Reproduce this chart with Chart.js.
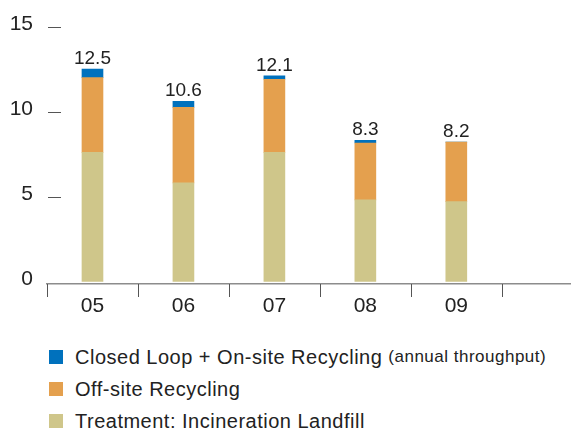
<!DOCTYPE html>
<html>
<head>
<meta charset="utf-8">
<script src="https://cdn.jsdelivr.net/npm/chart.js@4.4.0/dist/chart.umd.min.js"></script>
<style>
  body { margin: 0; background: #fff; font-family: "Liberation Sans", Arial, sans-serif; }
  #wrap { position: relative; width: 579px; height: 432px; }
  #box { position: absolute; left: 0; top: 0; width: 579px; height: 330px; }
  #legend { position: absolute; left: 49px; top: 341px; }
  .row { height: 32px; display: flex; align-items: center; font-size: 20px; letter-spacing: 0.5px; color: #222; white-space: nowrap; }
  .sw { width: 14px; height: 14px; margin-right: 12px; flex: none; }
  .row small { font-size: 17px; margin-left: 6px; }
</style>
</head>
<body>
<div id="wrap">
  <div id="box"><canvas id="myChart" width="579" height="330"></canvas></div>
  <div id="legend"></div>
</div>
<script>
var years = ['05', '06', '07', '08', '09'];
var landfill = [7.6, 5.8, 7.6, 4.8, 4.7];
var offsite = [4.4, 4.45, 4.3, 3.35, 3.5];
var closedLoop = [0.5, 0.35, 0.2, 0.15, 0];
var yTicks = [0, 5, 10, 15];

var seriesNames = ['Treatment: Incineration Landfill', 'Off-site Recycling', 'Closed Loop + On-site Recycling'];
var seriesNotes = ['', '', '(annual throughput)'];
var seriesColors = ['#cfc68a', '#e4a04e', '#0071bd'];

var font = '"Liberation Sans", Arial, sans-serif';

// bars sit in the middle of each year slot (x = 0.5, 1.5, ...)
function toPoints(arr) {
	return arr.map(function(v, i) { return { x: i + 0.5, y: v }; });
}

// totals above each stack
var totals = {
	id: 'totals',
	afterDatasetsDraw: function(chart) {
		var ctx = chart.ctx;
		ctx.save();
		ctx.font = '19px ' + font;
		ctx.fillStyle = '#222';
		ctx.textAlign = 'center';
		ctx.textBaseline = 'alphabetic';
		for (var i = 0; i < years.length; i++) {
			var total = landfill[i] + offsite[i] + closedLoop[i];
			var x = chart.scales.x.getPixelForValue(i + 0.5);
			var y = chart.scales.y.getPixelForValue(total);
			ctx.fillText(total.toFixed(1), x, y - 5);
		}
		ctx.restore();
	}
};

// little dashes on the y side, year dividers under the x axis
var axisMarks = {
	id: 'axisMarks',
	afterDraw: function(chart) {
		var ctx = chart.ctx, xs = chart.scales.x, ys = chart.scales.y, area = chart.chartArea;
		ctx.save();
		ctx.strokeStyle = '#555';
		ctx.lineWidth = 1;
		ctx.beginPath();
		yTicks.forEach(function(v) {
			if (v === 0) return;
			var y = Math.round(ys.getPixelForValue(v)) + 0.5;
			ctx.moveTo(area.left + 1, y);
			ctx.lineTo(area.left + 14, y);
		});
		for (var i = 0; i <= years.length; i++) {
			var x = Math.round(xs.getPixelForValue(i)) + 0.5;
			ctx.moveTo(x, area.bottom);
			ctx.lineTo(x, area.bottom + 13);
		}
		ctx.stroke();
		ctx.restore();
	}
};

new Chart('myChart', {
	type: 'bar',
	data: {
		datasets: [{
			label: seriesNames[0],
			data: toPoints(landfill),
			backgroundColor: seriesColors[0],
			barThickness: 21
		}, {
			label: seriesNames[1],
			data: toPoints(offsite),
			backgroundColor: seriesColors[1],
			barThickness: 21
		}, {
			label: seriesNames[2],
			data: toPoints(closedLoop),
			backgroundColor: seriesColors[2],
			barThickness: 21
		}]
	},
	options: {
		responsive: false,
		animation: false,
		devicePixelRatio: 1,
		layout: { padding: { top: 22, right: 9, left: 0, bottom: 0 } },
		scales: {
			x: {
				type: 'linear',
				stacked: true,
				offset: false,
				min: 0,
				max: 5.75,
				grid: { display: false, drawTicks: false },
				border: { display: true, color: '#8c8c8c', width: 1.5 },
				afterBuildTicks: function(scale) {
					scale.ticks = years.map(function(y, i) { return { value: i + 0.5 }; });
				},
				afterFit: function(scale) { scale.height = 46; },
				ticks: {
					padding: 10,
					color: '#222',
					font: { family: font, size: 21 },
					maxRotation: 0,
					callback: function(val, idx) { return years[idx]; }
				}
			},
			y: {
				stacked: true,
				min: -0.15,
				max: 15,
				grid: { display: false, drawTicks: false },
				border: { display: false },
				afterBuildTicks: function(scale) {
					scale.ticks = yTicks.map(function(v) { return { value: v }; });
				},
				afterFit: function(scale) { scale.width = 47; },
				ticks: {
					padding: 14,
					labelOffset: -2,
					color: '#222',
					font: { family: font, size: 21 }
				}
			}
		},
		plugins: {
			legend: { display: false },
			tooltip: { enabled: false }
		}
	},
	plugins: [totals, axisMarks]
});

// legend, top of the stack first
var legend = document.getElementById('legend');
for (var s = seriesNames.length - 1; s >= 0; s--) {
	var row = document.createElement('div');
	row.className = 'row';
	var sw = document.createElement('span');
	sw.className = 'sw';
	sw.style.background = seriesColors[s];
	row.appendChild(sw);
	row.appendChild(document.createTextNode(seriesNames[s]));
	if (seriesNotes[s]) {
		var note = document.createElement('small');
		note.textContent = seriesNotes[s];
		row.appendChild(note);
	}
	legend.appendChild(row);
}
</script>
</body>
</html>
